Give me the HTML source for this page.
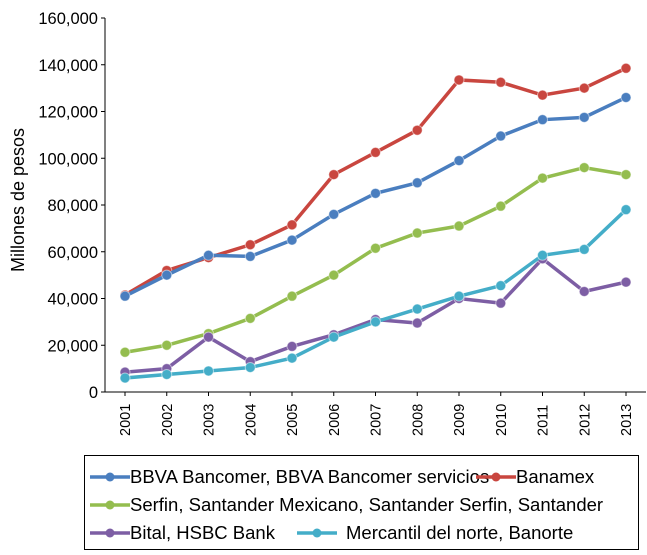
<!DOCTYPE html>
<html><head><meta charset="utf-8"><style>
body{margin:0;background:#fff;font-family:"Liberation Sans",Arial,sans-serif}
</style></head><body>
<svg id="c" width="647" height="555" style="display:block"></svg>
<script>
const years=["2001","2002","2003","2004","2005","2006","2007","2008","2009","2010","2011","2012","2013"];
const yTicks=[0,20000,40000,60000,80000,100000,120000,140000,160000];
const bbva=[41000,50000,58500,58000,65000,76000,85000,89500,99000,109500,116500,117500,126000];
const banamex=[41500,52000,57500,63000,71500,93000,102500,112000,133500,132500,127000,130000,138500];
const serfin=[17000,20000,25000,31500,41000,50000,61500,68000,71000,79500,91500,96000,93000];
const bital=[8500,10000,23500,13000,19500,24500,31000,29500,40000,38000,57000,43000,47000];
const mercantil=[6000,7500,9000,10500,14500,23500,30000,35500,41000,45500,58500,61000,78000];
const seriesNames=["BBVA Bancomer, BBVA Bancomer servicios","Banamex","Serfin, Santander Mexicano, Santander Serfin, Santander","Bital, HSBC Bank","Mercantil del norte, Banorte"];
const NS="http://www.w3.org/2000/svg",svg=document.getElementById('c');
const X=i=>125+i*41.75, Y=v=>392-v/160000*374;
function mk(t,a,p){const e=document.createElementNS(NS,t);for(const k in a)e.setAttribute(k,a[k]);(p||svg).appendChild(e);return e;}
mk('line',{x1:105,y1:18,x2:105,y2:392,stroke:'#000','stroke-width':1});
mk('line',{x1:105,y1:392,x2:646,y2:392,stroke:'#000','stroke-width':1});
yTicks.forEach(v=>{
 mk('line',{x1:101,y1:Y(v),x2:105,y2:Y(v),stroke:'#000'});
 const t=mk('text',{x:98,y:Y(v)+6,'text-anchor':'end','font-size':16.5});
 t.textContent=v.toLocaleString('en-US');
 
 
});
years.forEach((y,i)=>{
 mk('line',{x1:X(i),y1:392,x2:X(i),y2:396,stroke:'#000'});
 const t=mk('text',{transform:`translate(${X(i)+5},436) rotate(-90)`,'font-size':14.5});
 t.textContent=y;
 
 
});
const yt=mk('text',{transform:'translate(24,200) rotate(-90)','text-anchor':'middle','font-size':18});
yt.textContent='Millones de pesos';


const all=[[bbva,'#4a7ebf'],[banamex,'#c9463f'],[serfin,'#94bd4f'],[bital,'#7d5ea4'],[mercantil,'#44adc8']];
const ids=['bbva','banamex','serfin','bital','mercantil'];
[1,0,2,3,4].forEach(k=>{
 const [d,c]=all[k];
 const g=mk('g',{});
 
 
 mk('polyline',{points:d.map((v,i)=>X(i)+','+Y(v)).join(' '),fill:'none',stroke:c,'stroke-width':3.5},g);
 d.forEach((v,i)=>{const p=mk('circle',{cx:X(i),cy:Y(v),r:5,fill:c,stroke:'#fff','stroke-opacity':0.5},g);
  
  });
});
const lg=mk('g',{});


mk('rect',{x:84.5,y:455.5,width:554,height:94,fill:'#fff',stroke:'#000'},lg);
const pos=[[90,477],[476,477],[90,505],[90,533],[297,533]];
pos.forEach(([x,y],k)=>{
 const c=all[k][1];
 mk('line',{x1:x,y1:y,x2:x+40,y2:y,stroke:c,'stroke-width':3.5},lg);
 mk('circle',{cx:x+20,cy:y,r:4.5,fill:c},lg);
 const t=mk('text',{x:x+(k===4?49:40),y:y+6,'font-size':18.5},lg);
 t.textContent=seriesNames[k];
 
 
});
</script>
</body></html>
